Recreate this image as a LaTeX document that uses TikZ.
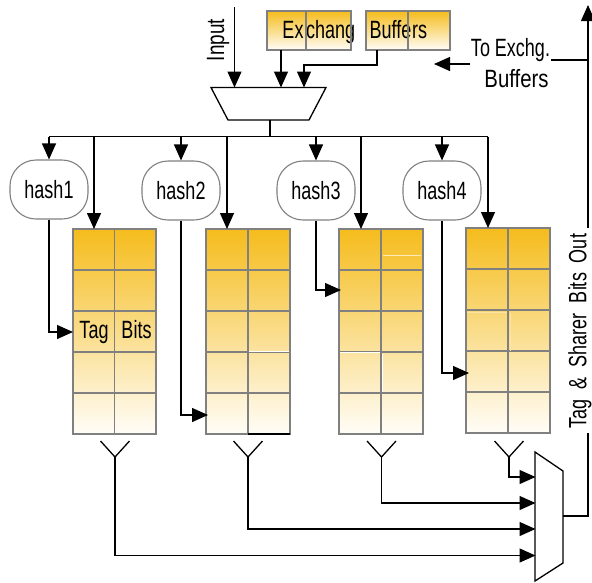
\documentclass[tikz,border=0pt]{standalone}
\usepackage{fontspec}
\setmainfont[FakeStretch=0.72]{Liberation Sans}
\usetikzlibrary{arrows.meta,positioning,calc}
\tikzset{
  wire/.style={draw=black,line width=1.3pt},
  arrowwire/.style={wire,-{Triangle[length=16pt,width=14pt]}},
  hashbox/.style={draw=black!50,line width=1.1pt,fill=white,rounded corners=26pt,minimum width=78pt,minimum height=59pt,inner sep=0pt,font=\fontsize{25}{25}\selectfont},
  tablebox/.style={draw=none,top color=gold,bottom color=cream,minimum width=83pt,minimum height=205pt,inner sep=0pt},
  bufbox/.style={draw=none,top color=gold,bottom color=cream,minimum width=84pt,minimum height=39pt,inner sep=0pt},
  gridline/.style={draw=black!50,line width=1.5pt},
  streak/.style={draw=white,line width=0.8pt},
  label/.style={inner sep=0pt,font=\fontsize{25}{25}\selectfont},
  muxshape/.style={draw=black,line width=1.3pt,fill=white}
}
\definecolor{gold}{HTML}{F5BC1C}
\definecolor{cream}{HTML}{FFFDF8}
\newcommand{\tablegrid}[1]{%
  \draw[gridline] (#1.north west) rectangle (#1.south east);
  \draw[gridline] (#1.north) -- (#1.south);
  \foreach \f in {0.2,0.4,0.6,0.8}
    \draw[gridline] ($(#1.north west)!\f!(#1.south west)$) -- ($(#1.north east)!\f!(#1.south east)$);
}
\begin{document}
\begin{tikzpicture}[x=1pt,y=-1pt]
\useasboundingbox (0,0) rectangle (592,582);
% exchange buffers
\node[bufbox] (bufa) at (309,30.5) {};
\node[bufbox] (bufb) at (408,30.5) {};
\node[label,anchor=base] at (293,38.5) {Ex};
\node[label,anchor=base west] at (306,38.5) {chang};
\node[label,anchor=base west] at (369.5,38.5) {Buffe};
\node[label,anchor=base west] at (412,38.5) {rs};
\draw[gridline] (bufa.north west) rectangle (bufa.south east);
\draw[gridline] (bufa.north) ++(-3,0) -- ++(0,39);
\draw[gridline] (bufb.north west) rectangle (bufb.south east);
\draw[gridline] (bufb.north) -- (bufb.south);
% input mux
\draw[muxshape] (211,87.5) -- (326,87.5) -- (309,120) -- (228,120) -- cycle;
\coordinate (muxtop1) at (234.5,87.5);
\coordinate (muxtop2) at (281,87.5);
\coordinate (muxtop3) at (304,87.5);
\coordinate (muxbot) at (270,120);
\coordinate (inputstart) at (234.5,7);
\coordinate (buftap1) at (281,50);
\coordinate (buftap2) at (377,50);
\coordinate (busjoin) at (270,136.5);
\coordinate (busleft) at (49,136.5);
\coordinate (busright) at (488,136.5);
\node[label,rotate=90,xscale=1.05] (inputlabel) at (218,40) {Input};
\draw[arrowwire] (inputstart) -- (muxtop1);
\draw[arrowwire] (buftap1) -- (muxtop2);
\draw[arrowwire] (buftap2) -- (377,65) -- (304,65) -- (muxtop3);
\draw[wire] (muxbot) -- (busjoin);
\draw[wire] (busleft) -- (busright);
% hash nodes
\node[hashbox] (h1) at (49,189.5) {hash1};
\node[hashbox] (h2) at (181,190.5) {hash2};
\node[hashbox] (h3) at (316,190.5) {hash3};
\node[hashbox] (h4) at (442,190.5) {hash4};
% tables
\node[tablebox,minimum width=83pt] (t1) at (114.5,331.5) {};
\node[tablebox,minimum width=84pt] (t2) at (248,331.5) {};
\node[tablebox,minimum width=84pt] (t3) at (381,331.5) {};
\node[tablebox,minimum width=84pt] (t4) at (508,330.5) {};
\tablegrid{t1}\tablegrid{t2}\tablegrid{t3}\tablegrid{t4}
\draw[streak] (249,351) -- (289,351);
\draw[streak,draw=white!70!gold] (383,255) -- (421,255);
\draw[streak] (340,352) -- (380,352);
\draw[streak] (382.5,354) -- (382.5,392);
\draw[streak,draw=white!60!gold] (467,312) -- (507,312);
\draw[streak,draw=white!60!gold] (510,313) -- (510,351);
\draw[line width=1.5pt,black] (248,434) -- (290,434);
\node[label,anchor=base] at (94,338) {Tag};
\node[label,anchor=base] at (136.5,338) {Bits};
% bus drops
\draw[arrowwire] (busleft) -- (h1.north);
\draw[arrowwire] (94,136.5) -- (94,229);
\draw[arrowwire] (181,136.5) -- (h2.north);
\draw[arrowwire] (227,136.5) -- (227,229);
\draw[arrowwire] (316,136.5) -- (h3.north);
\draw[arrowwire] (361,136.5) -- (361,229);
\draw[arrowwire] (442,136.5) -- (h4.north);
\draw[arrowwire] (busright) -- (488,228);
% hash to table
\coordinate (in1) at (73,332);
\coordinate (in2) at (208,415);
\coordinate (in3) at (341,290);
\coordinate (in4) at (469,373);
\draw[arrowwire] (h1.south) |- (in1);
\draw[arrowwire] (h2.south) |- (in2);
\draw[arrowwire] (h3.south) |- (in3);
\draw[arrowwire] (h4.south) |- (in4);
% output mux
\draw[muxshape] (535,452) -- (563,471) -- (563,563) -- (535,581) -- cycle;
\coordinate (m1) at (535.5,477);
\coordinate (m2) at (535.5,503);
\coordinate (m3) at (535.5,529);
\coordinate (m4) at (535.5,555.5);
\coordinate (y1) at (115,457);
\coordinate (y2) at (248,457);
\coordinate (y3) at (381.5,457);
\coordinate (y4) at (509,457);
\foreach \c in {y1,y2,y3,y4}{
  \draw[wire] ($(\c)+(-14.5,-16)$) -- (\c) -- ($(\c)+(14.5,-16)$);
}
\draw[arrowwire] (y1) |- (m4);
\draw[arrowwire] (y2) |- (m3);
\draw[arrowwire] (y3) |- (m2);
\draw[arrowwire] (y4) |- (m1);
% output
\coordinate (muxout) at (563,516);
\coordinate (outcorner) at (588,516);
\coordinate (textlow) at (588,433);
\coordinate (texthigh) at (588,228);
\coordinate (outtop) at (588,5);
\draw[wire] (muxout) -- (outcorner) -- (textlow);
\draw[arrowwire] (texthigh) -- (outtop);
\node[label,rotate=90] (outlabel) at (580,331) {Tag \ \& \ Sharer \ Bits \ Out};
\node[label,anchor=base] (toex) at (510.5,56.5) {To Exchg.};
\node[label,anchor=base,xscale=1.13] (buflabel) at (516.5,87) {Buffers};
\coordinate (toexarrow) at (434,64);
\draw[wire] (551,60) -- (588,60);
\draw[arrowwire] (470,64) -- (toexarrow);
\end{tikzpicture}
\end{document}
